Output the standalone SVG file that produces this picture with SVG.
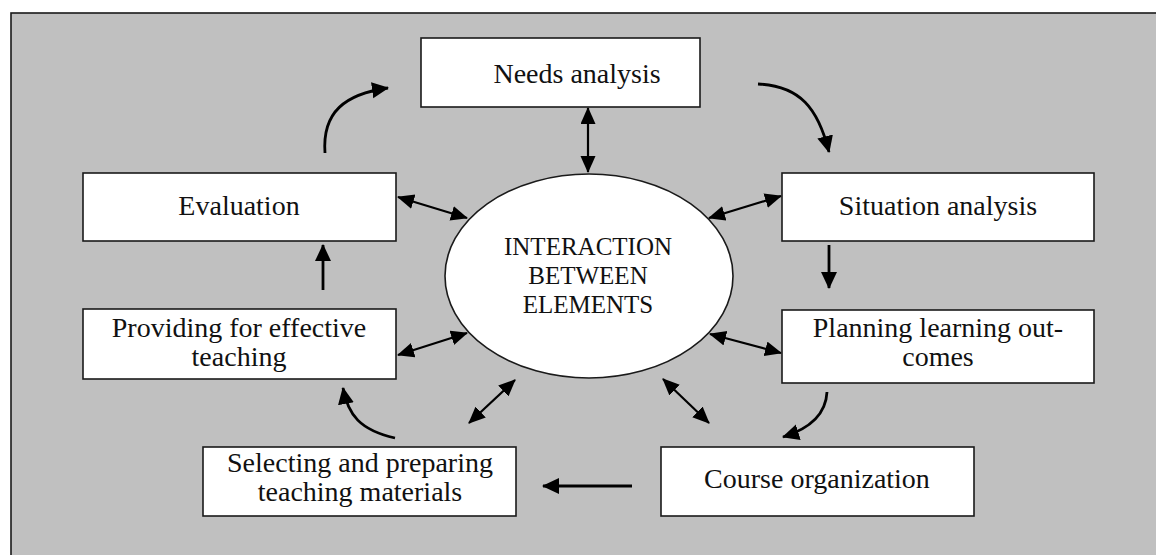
<svg xmlns="http://www.w3.org/2000/svg" width="1156" height="555" viewBox="0 0 1156 555">
<style>
.box{fill:#ffffff;stroke:#1a1a1a;stroke-width:1.6}
.t{font-family:"Liberation Serif","Times New Roman",serif;font-size:28px;fill:#111;text-anchor:middle}
.c{font-family:"Liberation Serif","Times New Roman",serif;font-size:25px;fill:#111;text-anchor:middle}
.flow{fill:none;stroke:#000;stroke-width:2.8;marker-end:url(#ah)}
.dbl{fill:none;stroke:#000;stroke-width:2.2;marker-start:url(#ah2);marker-end:url(#ah2)}
</style>
<defs>
<marker id="ah" markerUnits="userSpaceOnUse" markerWidth="20" markerHeight="18" refX="16" refY="8" orient="auto">
<path d="M0,0 L17,8 L0,16 z" fill="#000"/>
</marker>
<marker id="ah2" markerUnits="userSpaceOnUse" markerWidth="20" markerHeight="18" refX="16" refY="7.5" orient="auto-start-reverse">
<path d="M0,0 L17,7.5 L0,15 z" fill="#000"/>
</marker>
</defs>
<rect x="0" y="0" width="1156" height="555" fill="#ffffff"/>
<rect id="frame" x="11" y="13" width="1160" height="560" fill="#c0c0c0" stroke="#1a1a1a" stroke-width="1.6"/>

<g id="connectors">
<path class="flow" d="M325,153 C322,112 345,94 388,88"/>
<path class="flow" d="M758,84 C800,86 818,108 829,152"/>
<path class="flow" d="M829,245 L829,288"/>
<path class="flow" d="M827,392 C826,412 812,428 783,437"/>
<path class="flow" d="M632,486 L543,486"/>
<path class="flow" d="M395,438 C360,430 348,415 343,388"/>
<path class="flow" d="M323,290 L323,245"/>
<path class="dbl" d="M588,108 L588,172"/>
<path class="dbl" d="M398,197 L467,218"/>
<path class="dbl" d="M398,355 L467,333"/>
<path class="dbl" d="M781,196 L709,218"/>
<path class="dbl" d="M781,353 L710,334"/>
<path class="dbl" d="M469,423 L515,380"/>
<path class="dbl" d="M709,423 L663,379"/>
</g>

<g id="needs">
<rect class="box" x="421" y="38" width="279" height="69"/>
<text class="t" x="577" y="83">Needs analysis</text>
</g>
<g id="evaluation">
<rect class="box" x="83" y="173" width="313" height="68"/>
<text class="t" x="239" y="215">Evaluation</text>
</g>
<g id="situation">
<rect class="box" x="782" y="173" width="312" height="68"/>
<text class="t" x="938" y="215">Situation analysis</text>
</g>
<g id="center">
<ellipse cx="589" cy="276" rx="144" ry="102" fill="#ffffff" stroke="#1a1a1a" stroke-width="1.6"/>
<text class="c" x="588" y="255">INTERACTION</text>
<text class="c" x="588" y="284">BETWEEN</text>
<text class="c" x="588" y="313">ELEMENTS</text>
</g>
<g id="providing">
<rect class="box" x="83" y="309" width="313" height="70"/>
<text class="t" x="239" y="337">Providing for effective</text>
<text class="t" x="239" y="366">teaching</text>
</g>
<g id="planning">
<rect class="box" x="782" y="310" width="312" height="73"/>
<text class="t" x="938" y="337">Planning learning out-</text>
<text class="t" x="938" y="366">comes</text>
</g>
<g id="selecting">
<rect class="box" x="203" y="447" width="313" height="69"/>
<text class="t" x="360" y="472">Selecting and preparing</text>
<text class="t" x="360" y="501">teaching materials</text>
</g>
<g id="course">
<rect class="box" x="661" y="447" width="313" height="69"/>
<text class="t" x="817" y="488">Course organization</text>
</g>
</svg>
